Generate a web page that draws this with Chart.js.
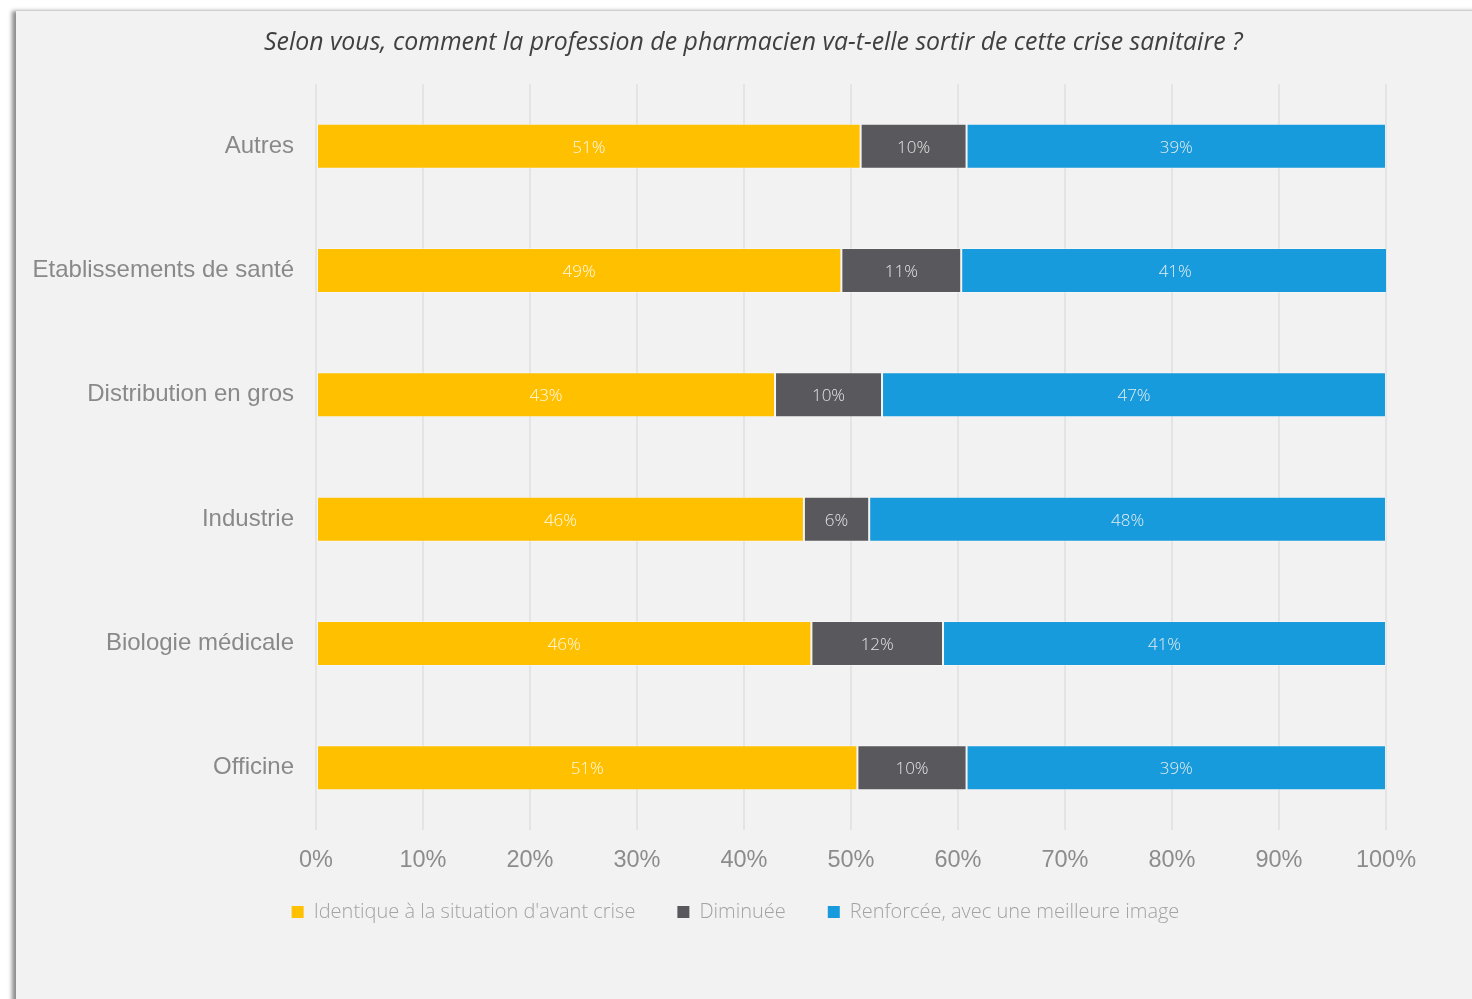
<!DOCTYPE html>
<html><head><meta charset="utf-8">
<script src="https://cdn.jsdelivr.net/npm/chart.js@4.4.1/dist/chart.umd.min.js"></script>
<style>
html,body{margin:0;padding:0;background:#ffffff;width:1472px;height:999px;overflow:hidden;}
#panel{position:absolute;left:16px;top:11px;width:1480px;height:1000px;background:#f2f2f2;box-shadow:-4px 0 4px rgba(0,0,0,0.45);}
#wrap{position:absolute;left:0;top:0;width:1472px;height:999px;}
</style></head><body>
<div id="panel"></div>
<div id="wrap"><canvas id="c" width="1472" height="999"></canvas></div>
<script>
const chartTitle = "Selon vous, comment la profession de pharmacien va-t-elle sortir de cette crise sanitaire ?";
const categories = ["Autres", "Etablissements de santé", "Distribution en gros", "Industrie", "Biologie médicale", "Officine"];
const seriesNames = ["Identique à la situation d'avant crise", "Diminuée", "Renforcée, avec une meilleure image"];
const identique = [50.9, 49.1, 42.9, 45.6, 46.3, 50.6];
const diminuee = [9.9, 11.2, 10.0, 6.1, 12.3, 10.2];
const renforcee = [39.2, 40.0, 47.1, 48.3, 41.4, 39.2];
const identiqueLabels = ["51%", "49%", "43%", "46%", "46%", "51%"];
const diminueeLabels = ["10%", "11%", "10%", "6%", "12%", "10%"];
const renforceeLabels = ["39%", "41%", "47%", "48%", "41%", "39%"];
const xTickValues = [0, 10, 20, 30, 40, 50, 60, 70, 80, 90, 100];

const colors = ["#FFC000", "#59585D", "#179BDC"];

const titlePlugin = {
  id: 'fittedTitle',
  afterDraw(chart) {
    const ctx = chart.ctx;
    ctx.save();
    ctx.font = "italic 25px 'Open Sans'";
    const w = ctx.measureText(chartTitle).width;
    const size = 25 * 979 / w;
    ctx.font = "italic " + size.toFixed(2) + "px 'Open Sans'";
    ctx.fillStyle = "#404040";
    ctx.textAlign = "left";
    ctx.textBaseline = "middle";
    ctx.fillText(chartTitle, 264, 43);
    ctx.restore();
  }
};

const legendPlacement = {
  id: 'legendPlacement',
  afterLayout(chart) {
    const lg = chart.legend;
    if (!lg) return;
    lg.left = 85;
    lg.right = 1386;
    lg.top = 860;
  }
};

const valueLabelPlugin = {
  id: 'valueLabels',
  afterDatasetsDraw(chart) {
    const ctx = chart.ctx;
    ctx.save();
    ctx.font = "300 17px 'Open Sans'";
    ctx.textAlign = "center";
    ctx.textBaseline = "middle";
    chart.data.datasets.forEach((ds, i) => {
      const meta = chart.getDatasetMeta(i);
      ctx.fillStyle = ds.labelColor;
      meta.data.forEach((bar, j) => {
        const cx = (bar.x + bar.base) / 2;
        ctx.fillText(ds.valueLabels[j], cx, bar.y + 1.5);
      });
    });
    ctx.restore();
  }
};

new Chart(document.getElementById('c'), {
  type: 'bar',
  data: {
    labels: categories,
    datasets: [
      { label: seriesNames[0], data: identique, valueLabels: identiqueLabels, backgroundColor: colors[0], labelColor: 'rgba(255,255,255,0.92)' },
      { label: seriesNames[1], data: diminuee, valueLabels: diminueeLabels, backgroundColor: colors[1], labelColor: 'rgba(235,235,235,0.95)' },
      { label: seriesNames[2], data: renforcee, valueLabels: renforceeLabels, backgroundColor: colors[2], labelColor: 'rgba(240,240,240,0.95)' }
    ]
  },
  options: {
    indexAxis: 'y',
    responsive: false,
    animation: false,
    devicePixelRatio: 1,
    datasets: { bar: { categoryPercentage: 1, barPercentage: 0.362, borderWidth: 1, borderColor: 'rgba(255,255,255,0.3)', borderSkipped: false } },
    layout: { padding: { top: 84, left: 0, right: 86, bottom: 47 } },
    scales: {
      x: {
        stacked: true, min: 0, max: 100,
        afterBuildTicks(scale) { scale.ticks = xTickValues.map(v => ({ value: v })); },
        afterFit(scale) { scale.height = 50; },
        grid: { color: '#e4e4e4', lineWidth: 2, drawTicks: false },
        border: { display: false },
        ticks: { padding: 16, color: '#8c8c8c', font: { family: "'Liberation Sans', Arial", size: 23.5 }, callback: v => v + '%', maxRotation: 0 }
      },
      y: {
        stacked: true,
        afterFit(scale) { scale.width = 316; },
        grid: { display: false, drawTicks: false },
        border: { display: false },
        ticks: { padding: 22, color: '#898989', font: { family: "'Liberation Sans', Arial", size: 24 } }
      }
    },
    plugins: {
      title: { display: false },
      tooltip: { enabled: false },
      legend: {
        position: 'bottom',
        labels: {
          boxWidth: 12, boxHeight: 12, padding: 42,
          color: '#a3a3a3',
          font: { family: "'Open Sans'", size: 20, weight: 300 },
          generateLabels(chart) {
            return chart.data.datasets.map((ds, i) => ({ text: ds.label, fillStyle: ds.backgroundColor, strokeStyle: ds.backgroundColor, lineWidth: 0, fontColor: '#a3a3a3', datasetIndex: i, hidden: false }));
          }
        }
      }
    }
  },
  plugins: [titlePlugin, legendPlacement, valueLabelPlugin]
});
</script>
</body></html>
